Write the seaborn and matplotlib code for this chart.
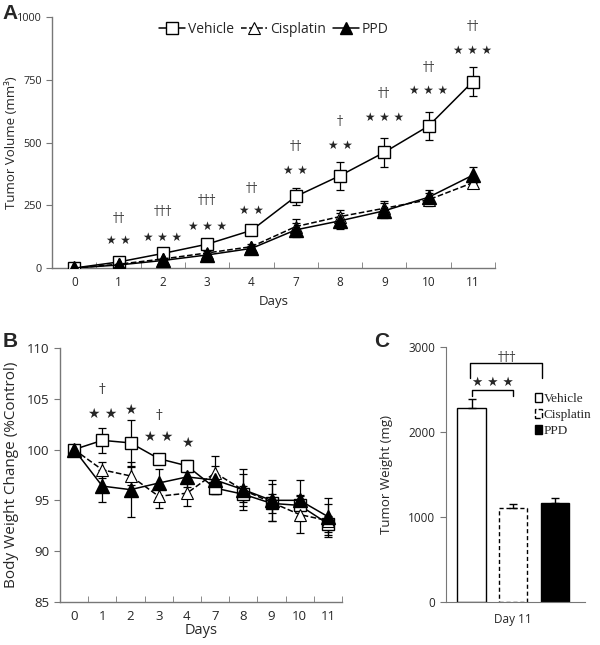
import matplotlib
matplotlib.use("Agg")
import matplotlib.pyplot as plt
from matplotlib.lines import Line2D
from matplotlib.patches import Patch
import seaborn as sns
import pandas as pd

days = ["0", "1", "2", "3", "4", "7", "8", "9", "10", "11"]

# panel A - tumor volume (mm3)
vol_vehicle = [0, 24, 58, 95, 150, 285, 368, 461, 566, 743]
vol_vehicle_err = [3, 6, 8, 10, 12, 33, 56, 58, 57, 58]
vol_cisplatin = [0, 15, 36, 60, 85, 165, 205, 238, 272, 340]
vol_cisplatin_err = [2, 5, 6, 8, 10, 30, 28, 30, 25, 20]
vol_ppd = [0, 12, 30, 52, 78, 152, 188, 228, 282, 370]
vol_ppd_err = [2, 5, 6, 8, 10, 28, 32, 30, 28, 32]
star_a = ["", "★ ★", "★ ★ ★", "★ ★ ★", "★ ★", "★ ★", "★ ★", "★ ★ ★", "★ ★ ★", "★ ★ ★"]
star_a_y = [0, 110, 123, 166, 229, 388, 490, 600, 709, 868]
dag_a = ["", "††", "†††", "†††", "††", "††", "†", "††", "††", "††"]
dag_a_y = [0, 199, 225, 268, 318, 486, 583, 695, 801, 963]

# panel B - body weight change (%control)
bw_vehicle = [100, 100.9, 100.65, 99.1, 98.4, 96.2, 95.6, 94.7, 94.5, 92.7]
bw_vehicle_err = [0.2, 1.2, 2.3, 0.3, 0.6, 0.6, 0.8, 0.9, 1.0, 0.8]
bw_cisplatin = [100, 98.0, 97.4, 95.4, 95.7, 97.7, 96.0, 94.8, 93.6, 93.0]
bw_cisplatin_err = [0.2, 0.8, 0.9, 1.2, 1.3, 1.7, 1.6, 1.8, 1.8, 1.6]
bw_ppd = [100, 96.4, 96.05, 96.7, 97.3, 97.0, 96.05, 95.0, 95.0, 93.4]
bw_ppd_err = [0.2, 1.6, 2.7, 1.4, 1.0, 1.4, 2.0, 2.0, 2.0, 1.8]
star_b = ["", "★ ★", "★", "★ ★", "★", "", "", "", "", ""]
star_b_y = [0, 103.45, 103.9, 101.2, 100.6, 0, 0, 0, 0, 0]
dag_b = ["", "†", "", "†", "", "", "", "", "", ""]
dag_b_y = [0, 105.9, 0, 103.35, 0, 0, 0, 0, 0, 0]

# panel C - tumor weight day 11 (mg)
groups = ["Vehicle", "Cisplatin", "PPD"]
tw_mean = [2290, 1102, 1168]
tw_err = [105, 50, 52]

sns.set_style("ticks")
plt.rcParams["font.family"] = ["Open Sans", "DejaVu Sans"]

fig = plt.figure(figsize=(6, 6.45), dpi=100)
axA = fig.add_axes([0.087, 0.5845, 0.738, 0.389])
axB = fig.add_axes([0.1, 0.0667, 0.47, 0.394])
axC = fig.add_axes([0.743, 0.0667, 0.232, 0.395])

styles = {
    "Vehicle": dict(marker="s", mfc="white", mec="black", ms=8.5, ls="-", mew=1.0),
    "Cisplatin": dict(marker="^", mfc="white", mec="black", ms=8.5, ls="--", mew=0.8),
    "PPD": dict(marker="^", mfc="black", mec="black", ms=9.5, ls="-", mew=1.0),
}


def draw_lines(ax, series):
    for name, vals, err in series:
        df = pd.DataFrame({"day": days, "val": vals})
        ax.errorbar(days, vals, yerr=err, fmt="none", ecolor="black",
                    elinewidth=0.9, capsize=3, capthick=0.9, zorder=2)
        sns.lineplot(data=df, x="day", y="val", ax=ax, color="black", lw=1.1,
                     sort=False, zorder=3, **styles[name])


def style_axis(ax, tsize):
    sns.despine(ax=ax)
    for s in ["left", "bottom"]:
        ax.spines[s].set_color("#777777")
        ax.spines[s].set_linewidth(1.0)
    ax.set_xlim(-0.5, 9.5)
    ax.tick_params(axis="x", length=0, labelsize=tsize, pad=6)
    ax.tick_params(axis="y", length=4, color="#777777", labelsize=tsize)
    ax.set_xticks([i + 0.5 for i in range(10)], minor=True)
    ax.tick_params(axis="x", which="minor", direction="in", length=4, color="#777777")


# ---- A ----
draw_lines(axA, [("Vehicle", vol_vehicle, vol_vehicle_err),
                 ("Cisplatin", vol_cisplatin, vol_cisplatin_err),
                 ("PPD", vol_ppd, vol_ppd_err)])
style_axis(axA, 8.5)
axA.tick_params(axis="y", labelsize=7.8)
axA.set_ylim(0, 1000)
axA.set_yticks([0, 250, 500, 750, 1000])
axA.set_xlabel("Days", fontsize=9.5)
axA.set_ylabel("Tumor Volume (mm³)", fontsize=9.5)
axA.yaxis.set_label_coords(-0.077, 0.5)
for i in range(10):
    axA.text(i, star_a_y[i], star_a[i], ha="center", va="center", fontsize=8.5,
             family="DejaVu Sans")
    axA.text(i, dag_a_y[i], dag_a[i], ha="center", va="center", fontsize=9,
             color="#333333", family="DejaVu Serif")
handles = [Line2D([], [], color="black", lw=1.1, **styles[n]) for n in groups]
for h in handles:
    h.set_markersize(8)
axA.legend(handles, groups, loc="upper center", bbox_to_anchor=(0.5, 1.03), ncol=3,
           frameon=False, fontsize=10, handlelength=1.9, handletextpad=0.2,
           columnspacing=0.5)

# ---- B ----
draw_lines(axB, [("Vehicle", bw_vehicle, bw_vehicle_err),
                 ("Cisplatin", bw_cisplatin, bw_cisplatin_err),
                 ("PPD", bw_ppd, bw_ppd_err)])
style_axis(axB, 9.5)
axB.set_ylim(85, 110)
axB.set_yticks([85, 90, 95, 100, 105, 110])
axB.set_xlabel("Days", fontsize=10.5, labelpad=0)
axB.set_ylabel("Body Weight Change (%Control)", fontsize=11, labelpad=6)
for i in range(10):
    if star_b[i]:
        axB.text(i, star_b_y[i], star_b[i], ha="center", va="center", fontsize=10,
                 family="DejaVu Sans")
    if dag_b[i]:
        axB.text(i, dag_b_y[i], dag_b[i], ha="center", va="center", fontsize=9.5,
                 color="#333333", family="DejaVu Serif")

# ---- C ----
cdf = pd.DataFrame({"group": groups, "weight": tw_mean})
sns.barplot(data=cdf, x="group", y="weight", ax=axC, width=0.68,
            palette=["white", "white", "black"], hue="group", legend=False,
            edgecolor="black", linewidth=1.0)
bars = axC.patches
bars[1].set_linestyle((0, (3, 2)))
axC.errorbar(range(3), tw_mean, yerr=[[0, 0, 0], tw_err], fmt="none",
             ecolor="black", elinewidth=1.0, capsize=3, capthick=1.0)
sns.despine(ax=axC)
for s in ["left", "bottom"]:
    axC.spines[s].set_color("#777777")
axC.set_xlim(-0.62, 2.72)
axC.set_ylim(0, 3000)
axC.set_yticks([0, 1000, 2000, 3000])
axC.set_xticks([1])
axC.set_xticklabels(["Day 11"])
axC.tick_params(axis="x", length=0, labelsize=8.5, pad=8)
axC.tick_params(axis="y", length=4, color="#777777", labelsize=8.5)
axC.set_xlabel("")
axC.set_ylabel("Tumor Weight (mg)", fontsize=9.5)
axC.yaxis.set_label_coords(-0.38, 0.5)
# significance brackets
axC.plot([0, 0, 1, 1], [2420, 2500, 2500, 2420], color="black", lw=1.0)
axC.text(0.5, 2580, "★ ★ ★", ha="center", va="center", fontsize=9,
         family="DejaVu Sans")
axC.plot([-0.03, -0.03, 1.7, 1.7], [2640, 2810, 2810, 2640], color="black", lw=1.0)
axC.text(0.85, 2880, "†††", ha="center", va="center", fontsize=9,
         color="#333333", family="DejaVu Serif")
chandles = [Patch(facecolor="white", edgecolor="black"),
            Patch(facecolor="white", edgecolor="black", linestyle="--"),
            Patch(facecolor="black", edgecolor="black")]
axC.legend(chandles, ["Vehicle", "Cisplatin", "PPD"], loc="upper left",
           bbox_to_anchor=(0.62, 0.83), frameon=False, handlelength=0.55,
           handleheight=0.65, handletextpad=0.15, labelspacing=0.3,
           borderaxespad=0.0, borderpad=0.2,
           prop={"family": "Liberation Serif", "size": 9.5})

# panel letters
for x, y, t in [(0.004, 0.994, "A"), (0.004, 0.486, "B"), (0.624, 0.486, "C")]:
    fig.text(x, y, t, fontsize=15, fontweight="bold", family="Liberation Sans",
             va="top", ha="left")

fig.savefig("out.png", dpi=100)
